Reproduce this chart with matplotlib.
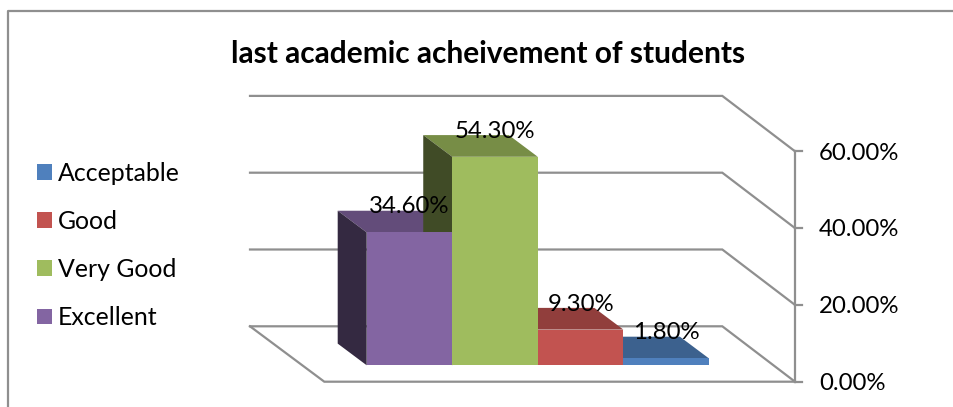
import matplotlib
matplotlib.use("Agg")
import matplotlib.pyplot as plt
from matplotlib.patches import Polygon, Patch
from matplotlib.lines import Line2D

categories = ["Excellent", "Very Good", "Good", "Acceptable"]
values = [34.6, 54.3, 9.3, 1.8]
value_labels = ["34.60%", "54.30%", "9.30%", "1.80%"]
front_colors = ["#8365A2", "#9FBC5E", "#C25350", "#4F80BD"]
top_colors = ["#634C7A", "#778D46", "#913E3C", "#3C618E"]
side_colors = ["#342941", "#404B26"]
legend_order = ["Acceptable", "Good", "Very Good", "Excellent"]
ticks = [0, 20, 40, 60]
tick_labels = ["0.00%", "20.00%", "40.00%", "60.00%"]
title = "last academic acheivement of students"

W, H = 954, 407
GREY = "#8F8F8F"
FONT = "Lato"
TEXT_SIZE = 17.3

# Scale of the value and category axes, in pixels per unit
PX_PER_PCT = 3.84
PX_PER_CAT = 85.55
X0_PX = 366.7
Y0_PX = 381.7

fig = plt.figure(figsize=(W / 100, H / 100), dpi=100)
ax = fig.add_axes([0, 0, 1, 1])
ax.set_xlim(-X0_PX / PX_PER_CAT, (W - X0_PX) / PX_PER_CAT)
ax.set_ylim((Y0_PX - H) / PX_PER_PCT, Y0_PX / PX_PER_PCT)
ax.axis("off")

# Oblique depth of the chart box and of the bars, in axis units
WALL_DX = -72.7 / PX_PER_CAT
WALL_DY = 55.4 / PX_PER_PCT
AXIS_X = (795 - X0_PX) / PX_PER_CAT
FLOOR_LEFT = (324.3 - X0_PX) / PX_PER_CAT
WALL_LEFT = (250 - X0_PX) / PX_PER_CAT
BAR_DX = -29 / PX_PER_CAT
BAR_DY = 21.7 / PX_PER_PCT
BAR_LIFT = 16.4 / PX_PER_PCT
TEXT_NUDGE = 1.8 / PX_PER_PCT

line_kw = dict(color=GREY, lw=1.6, solid_joinstyle="miter", zorder=1)

# Gridlines run along the back wall, then down the side wall to the axis
for t, lab in zip(ticks, tick_labels):
    wall_y = t + WALL_DY
    ax.plot([WALL_LEFT, AXIS_X + WALL_DX, AXIS_X], [wall_y, wall_y, t], **line_kw)
    ax.plot([AXIS_X, AXIS_X + 7 / PX_PER_CAT], [t, t], **line_kw)
    ax.text(AXIS_X + 24 / PX_PER_CAT, t - TEXT_NUDGE, lab, va="center",
            ha="left", fontsize=TEXT_SIZE, family=FONT, color="black", zorder=5)

# Value axis and the floor outline
ax.plot([AXIS_X, AXIS_X], [ticks[0], ticks[-1]], **line_kw)
ax.plot([WALL_LEFT, FLOOR_LEFT, AXIS_X], [WALL_DY, 0, 0], **line_kw)

# Bars as three visible faces, drawn back to front from right to left
for i in reversed(range(len(values))):
    v = values[i]
    base = BAR_LIFT
    top = base + v
    x0, x1 = float(i), float(i + 1)
    ax.add_patch(Polygon([(x0, top), (x1, top), (x1 + BAR_DX, top + BAR_DY),
                          (x0 + BAR_DX, top + BAR_DY)],
                         fc=top_colors[i], ec="none", zorder=2 + (3 - i) * 0.1))
    if i < len(side_colors):
        ax.add_patch(Polygon([(x0, base), (x0, top), (x0 + BAR_DX, top + BAR_DY),
                              (x0 + BAR_DX, base + BAR_DY)],
                             fc=side_colors[i], ec="none", zorder=2.5 + i * 0.1))
    ax.add_patch(Polygon([(x0, base), (x1, base), (x1, top), (x0, top)],
                         fc=front_colors[i], ec="none", zorder=3))

# Data labels sit centred over each bar
for i, v in enumerate(values):
    ax.text(i + 0.5, BAR_LIFT + v + 25.5 / PX_PER_PCT, value_labels[i], ha="center",
            va="center", fontsize=TEXT_SIZE, family=FONT, color="black", zorder=6)

ax.text((231 + 745) / 2 / PX_PER_CAT - X0_PX / PX_PER_CAT, (Y0_PX - 54) / PX_PER_PCT, title,
        ha="center", va="center", fontsize=21.5, fontweight="bold", family=FONT,
        color="black", zorder=6)

handles = [Patch(fc=front_colors[categories.index(c)], ec="none", label=c) for c in legend_order]
fig.legend(handles=handles, loc="center left", bbox_to_anchor=(37 / W, 1 - 245.5 / H),
           frameon=False, prop={"family": FONT, "size": TEXT_SIZE + 0.6}, borderpad=0,
           borderaxespad=0, handlelength=0.6, handleheight=0.6, handletextpad=0.25,
           labelspacing=1.01)

# Chart frame: left and top edges only
fig.add_artist(Line2D([8 / W, 8 / W, 1], [0, 1 - 11 / H, 1 - 11 / H], color=GREY, lw=1.6))

fig.savefig("out.png", dpi=100)
